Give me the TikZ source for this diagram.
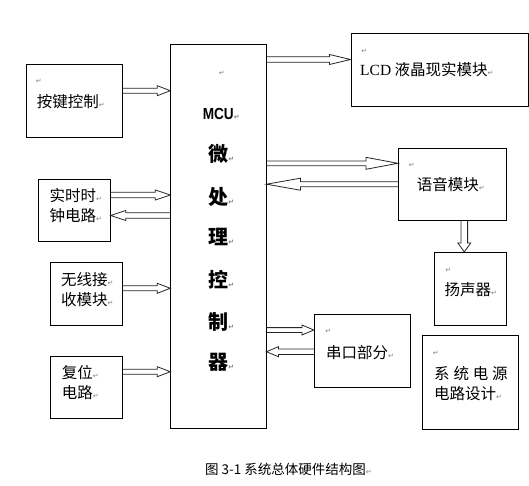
\documentclass[tikz,border=0pt]{standalone}
\usepackage{fontspec}
\setmainfont{Liberation Serif}
\newfontfamily\cjk{Noto Sans CJK SC}
\newfontfamily\symf{DejaVu Sans}
\newfontfamily\mcufont{Liberation Sans}
\usetikzlibrary{calc}
\newcommand\parmark{{\symf\fontsize{7}{7}\selectfont\color{black!50}↵}}
\newcommand\hollowarrow[5]{%
  \path let \p1=($(#2)-(#1)$) in \pgfextra{%
    \pgfmathsetmacro\harlen{veclen(\x1,\y1)}%
    \pgfmathsetmacro\harang{atan2(\y1,\x1)}%
    \global\let\harlen\harlen\global\let\harang\harang};
  \begin{scope}[shift={(#1)},rotate=\harang]
    \draw[arrowline] (0pt,#4) -- (\harlen pt-#3,#4) -- (\harlen pt-#3,#5)
      -- (\harlen pt,0pt) -- (\harlen pt-#3,-#5) -- (\harlen pt-#3,-#4) -- (0pt,-#4);
  \end{scope}}
\tikzset{
  box/.style={draw=black, line width=0.8pt, inner sep=0pt},
  arrowline/.style={draw=black!85, line width=0.8pt, line join=miter},
  txt/.style={anchor=west, inner sep=0pt, align=left, font=\cjk\fontsize{15.5}{20}\selectfont},
  mcutxt/.style={inner sep=0pt, font=\cjk\bfseries\fontsize{20}{20}\selectfont},
  pmark/.style={inner sep=0pt, anchor=center}
}
\begin{document}
\begin{tikzpicture}[x=1pt,y=-1pt]
\useasboundingbox[fill=white] (0,0) rectangle (529,485);
% boxes
\node[box, minimum width=95.6pt, minimum height=72.7pt] (key) at (74.5,100.7) {};
\node[box, minimum width=95.3pt, minimum height=384pt] (mcu) at (218.35,236.3) {};
\node[box, minimum width=72pt, minimum height=61.7pt] (rtc) at (74.3,210.2) {};
\node[box, minimum width=72pt, minimum height=63pt] (wl) at (86.3,293.8) {};
\node[box, minimum width=72pt, minimum height=62pt] (rst) at (86.3,387.3) {};
\node[box, minimum width=177.4pt, minimum height=73pt] (lcd) at (439.6,69.8) {};
\node[box, minimum width=108.4pt, minimum height=72pt] (voice) at (452.5,184.3) {};
\node[box, minimum width=72.4pt, minimum height=73pt] (spk) at (470.5,288.8) {};
\node[box, minimum width=96pt, minimum height=72.7pt] (ser) at (362.3,350.7) {};
\node[box, minimum width=96pt, minimum height=93.6pt] (pwr) at (470.3,382.5) {};
% texts
\node[pmark] (keyp) at (38.7,81.7) {\parmark};
\node[txt] (keyt) at (36.7,101.7) {按键控制\parmark};
\node[txt] (rtct) at (49.3,205.5) {实时时\parmark\\钟电路\parmark};
\node[txt] (wlt) at (61,290) {无线接\parmark\\收模块\parmark};
\node[txt] (rstt) at (61.7,383) {复位\parmark\\电路\parmark};
\node[pmark] (lcdp) at (364.3,51.7) {\parmark};
\node[txt] (lcdt) at (360,70) {{\rmfamily LCD} 液晶现实模块\parmark};
\node[pmark] (voicep) at (411.7,165) {\parmark};
\node[txt] (voicet) at (416.7,185) {语音模块\parmark};
\node[pmark] (spkp) at (448.3,270) {\parmark};
\node[txt] (spkt) at (444.3,289.3) {扬声器\parmark};
\node[pmark] (serp) at (328.3,331.7) {\parmark};
\node[txt] (sert) at (326,352.7) {串口部分\parmark};
\node[pmark] (pwrp) at (435.7,353.3) {\parmark};
\node[txt] (pwrt) at (434,383.3) {系\hspace{3.8pt}统\hspace{3.8pt}电\hspace{3.8pt}源\\电路设计\parmark};
% MCU column
\node[pmark] (mcup) at (221.7,73.3) {\parmark};
\node[inner sep=0pt] (m0) at (218.3,114) {\mcufont\bfseries\fontsize{16}{16}\selectfont\scalebox{0.85}[1]{MCU}\rlap{\parmark}};
\node[mcutxt] (m1) at (218.3,153.5) {微\rlap{\parmark}};
\node[mcutxt] (m2) at (218.3,196.7) {处\rlap{\parmark}};
\node[mcutxt] (m3) at (218.3,236.7) {理\rlap{\parmark}};
\node[mcutxt] (m4) at (218.3,280) {控\rlap{\parmark}};
\node[mcutxt] (m5) at (218.3,321.7) {制\rlap{\parmark}};
\node[mcutxt] (m6) at (218.3,362.7) {器\rlap{\parmark}};
% caption
\node[anchor=west, inner sep=0pt, font=\cjk\fontsize{13.5}{14}\selectfont] (cap) at (205,469.3) {图 3-1 系统总体硬件结构图\parmark};
% arrow end points
\coordinate (a1s) at (key.east |- 0,90.7);  \coordinate (a1e) at (mcu.west |- 0,90.7);
\coordinate (a2s) at (mcu.east |- 0,59.5);  \coordinate (a2e) at (lcd.west |- 0,59.5);
\coordinate (a3s) at (rtc.east |- 0,195);   \coordinate (a3e) at (mcu.west |- 0,195);
\coordinate (a4s) at (mcu.west |- 0,215.5); \coordinate (a4e) at (rtc.east |- 0,215.5);
\coordinate (a5s) at (mcu.east |- 0,163.3); \coordinate (a5e) at (voice.west |- 0,163.3);
\coordinate (a6s) at (voice.west |- 0,184.2); \coordinate (a6e) at (mcu.east |- 0,184.2);
\coordinate (a7s) at (voice.south -| 464.3,0); \coordinate (a7e) at (spk.north -| 464.3,0);
\coordinate (a8s) at (wl.east |- 0,288.3);  \coordinate (a8e) at (mcu.west |- 0,288.3);
\coordinate (a9s) at (rst.east |- 0,371.7); \coordinate (a9e) at (mcu.west |- 0,371.7);
\coordinate (a10s) at (mcu.east |- 0,330);  \coordinate (a10e) at (ser.west |- 0,330);
\coordinate (a11s) at (ser.west |- 0,351.7); \coordinate (a11e) at (mcu.east |- 0,351.7);
% arrows
\hollowarrow{a1s}{a1e}{13pt}{2.5pt}{5pt}
\hollowarrow{a2s}{a2e}{21pt}{2.8pt}{5pt}
\hollowarrow{a3s}{a3e}{15pt}{2.7pt}{5pt}
\hollowarrow{a4s}{a4e}{15pt}{2.8pt}{5pt}
\hollowarrow{a5s}{a5e}{32pt}{2.4pt}{6pt}
\hollowarrow{a6s}{a6e}{34pt}{2.5pt}{6pt}
\hollowarrow{a7s}{a7e}{9pt}{3.3pt}{6.5pt}
\hollowarrow{a8s}{a8e}{13pt}{2.5pt}{5pt}
\hollowarrow{a9s}{a9e}{13pt}{2.5pt}{5pt}
\hollowarrow{a10s}{a10e}{12pt}{2.4pt}{5pt}
\hollowarrow{a11s}{a11e}{12pt}{2.7pt}{5pt}
\end{tikzpicture}
\end{document}
